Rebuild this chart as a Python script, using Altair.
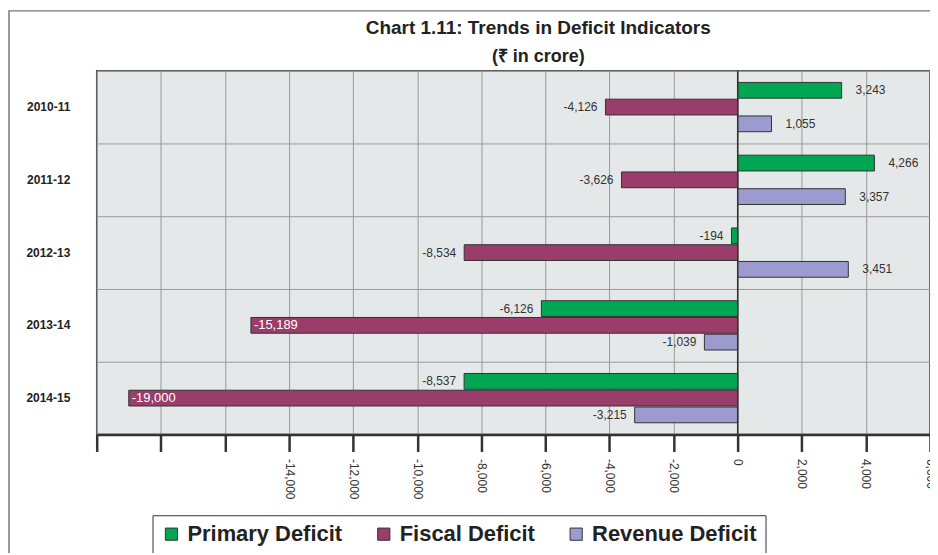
import altair as alt
import pandas as pd

years = ["2010-11", "2011-12", "2012-13", "2013-14", "2014-15"]
series_names = ["Primary Deficit", "Fiscal Deficit", "Revenue Deficit"]
primary = [3243, 4266, -194, -6126, -8537]
fiscal = [-4126, -3626, -8534, -15189, -19000]
revenue = [1055, 3357, 3451, -1039, -3215]
colors = ["#00a651", "#9b3d6a", "#9c9bcf"]

rows = []
for i, y in enumerate(years):
    for name, vals in zip(series_names, [primary, fiscal, revenue]):
        rows.append({"year": y, "series": name, "value": vals[i]})
df = pd.DataFrame(rows)

FONT = "Liberation Sans, Arial, sans-serif"
XDOM = [-20000, 6000]

x_axis = alt.Axis(values=list(range(-20000, 6001, 2000)),
                  labelExpr="datum.value < -15000 ? '' : replace(format(datum.value, ','), '\u2212', '-')",
                  labelAngle=90, labelFontSize=12, labelColor="#333",
                  labelFont=FONT, labelPadding=7,
                  tickSize=17, tickWidth=2.5, tickColor="#333",
                  domainColor="#333", domainWidth=2.5,
                  grid=True, gridColor="#9a9a9a", gridWidth=1)
x_enc = alt.X("value:Q", title=None, scale=alt.Scale(domain=XDOM, nice=False, zero=False), axis=x_axis)
y_enc = alt.Y("year:N", sort=years, title=None,
              scale=alt.Scale(paddingInner=0, paddingOuter=0),
              axis=alt.Axis(grid=True, bandPosition=0, ticks=False, domain=False,
                            labelFontWeight="bold", labelFontSize=12, labelColor="#222",
                            labelPadding=27, labelFont=FONT,
                            gridColor="#9a9a9a", gridWidth=1))
yoff = alt.YOffset("series:N", sort=series_names,
                   scale=alt.Scale(paddingInner=0.06, paddingOuter=0.7))

base = alt.Chart(df).transform_calculate(
    label="replace(format(datum.value, ','), '\u2212', '-')")

bars = base.mark_bar(stroke="#333", strokeWidth=1).encode(
    x=x_enc, y=y_enc, yOffset=yoff,
    color=alt.Color("series:N", sort=series_names,
                    scale=alt.Scale(domain=series_names, range=colors),
                    legend=alt.Legend(title=None, orient="none", legendX=56, legendY=446,
                                      direction="horizontal", fillColor="white",
                                      strokeColor="#333", padding=8,
                                      labelFontSize=22, labelFontWeight="bold",
                                      labelFont=FONT, labelColor="#222", labelLimit=0,
                                      symbolType="square", symbolSize=150,
                                      symbolStrokeColor="#333", symbolStrokeWidth=1,
                                      symbolOpacity=1, columnPadding=30, labelOffset=5)),
)

zero = alt.Chart(pd.DataFrame({"v": [0]})).mark_rule(color="#333", strokeWidth=1.5).encode(
    x=alt.X("v:Q", scale=alt.Scale(domain=XDOM, nice=False, zero=False), axis=x_axis, title=None)
)

frame = alt.Chart(pd.DataFrame({"v": [0]})).mark_rect(
    filled=False, stroke="#777", strokeWidth=1.5).encode(
    x=alt.value(-88), x2=alt.value(900), y=alt.value(-60), y2=alt.value(600))

txt = dict(fontSize=12, font=FONT, color="#333", baseline="middle")
x_txt = alt.X("value:Q", scale=alt.Scale(domain=XDOM, nice=False, zero=False), axis=x_axis, title=None)
y_txt = alt.Y("year:N", sort=years, title=None)
pos_lab = base.transform_filter("datum.value >= 0").mark_text(align="left", dx=14, **txt).encode(
    x=x_txt, y=y_txt, yOffset=yoff, text="label:N")
neg_lab = base.transform_filter("datum.value < 0 && datum.value > -12000").mark_text(
    align="right", dx=-8, **txt).encode(
    x=x_txt, y=y_txt, yOffset=yoff, text="label:N")
big_lab = base.transform_filter("datum.value <= -12000").mark_text(
    align="left", dx=3, fontSize=13, font=FONT, color="white", baseline="middle").encode(
    x=x_txt, y=y_txt, yOffset=yoff, text="label:N")

chart = alt.layer(bars, zero, pos_lab, neg_lab, big_lab, frame).properties(
    width=836, height=365,
    autosize=alt.AutoSizeParams(type="none"),
    padding={"left": 89, "top": 62, "right": 0, "bottom": 118},
    title=alt.TitleParams(text="Chart 1.11: Trends in Deficit Indicators",
                          subtitle="(₹ in crore)", anchor="middle", dx=25, dy=64, frame="group",
                          fontSize=19, fontWeight="bold", font=FONT, color="#222",
                          subtitleFontSize=18, subtitleFontWeight="bold",
                          subtitleFont=FONT, subtitleColor="#222",
                          subtitlePadding=10, offset=8),
).configure_view(fill="#e4e8e8", stroke="#444", strokeWidth=1.5)

chart.save("out.html", embed_options={"renderer": "svg", "actions": False})
